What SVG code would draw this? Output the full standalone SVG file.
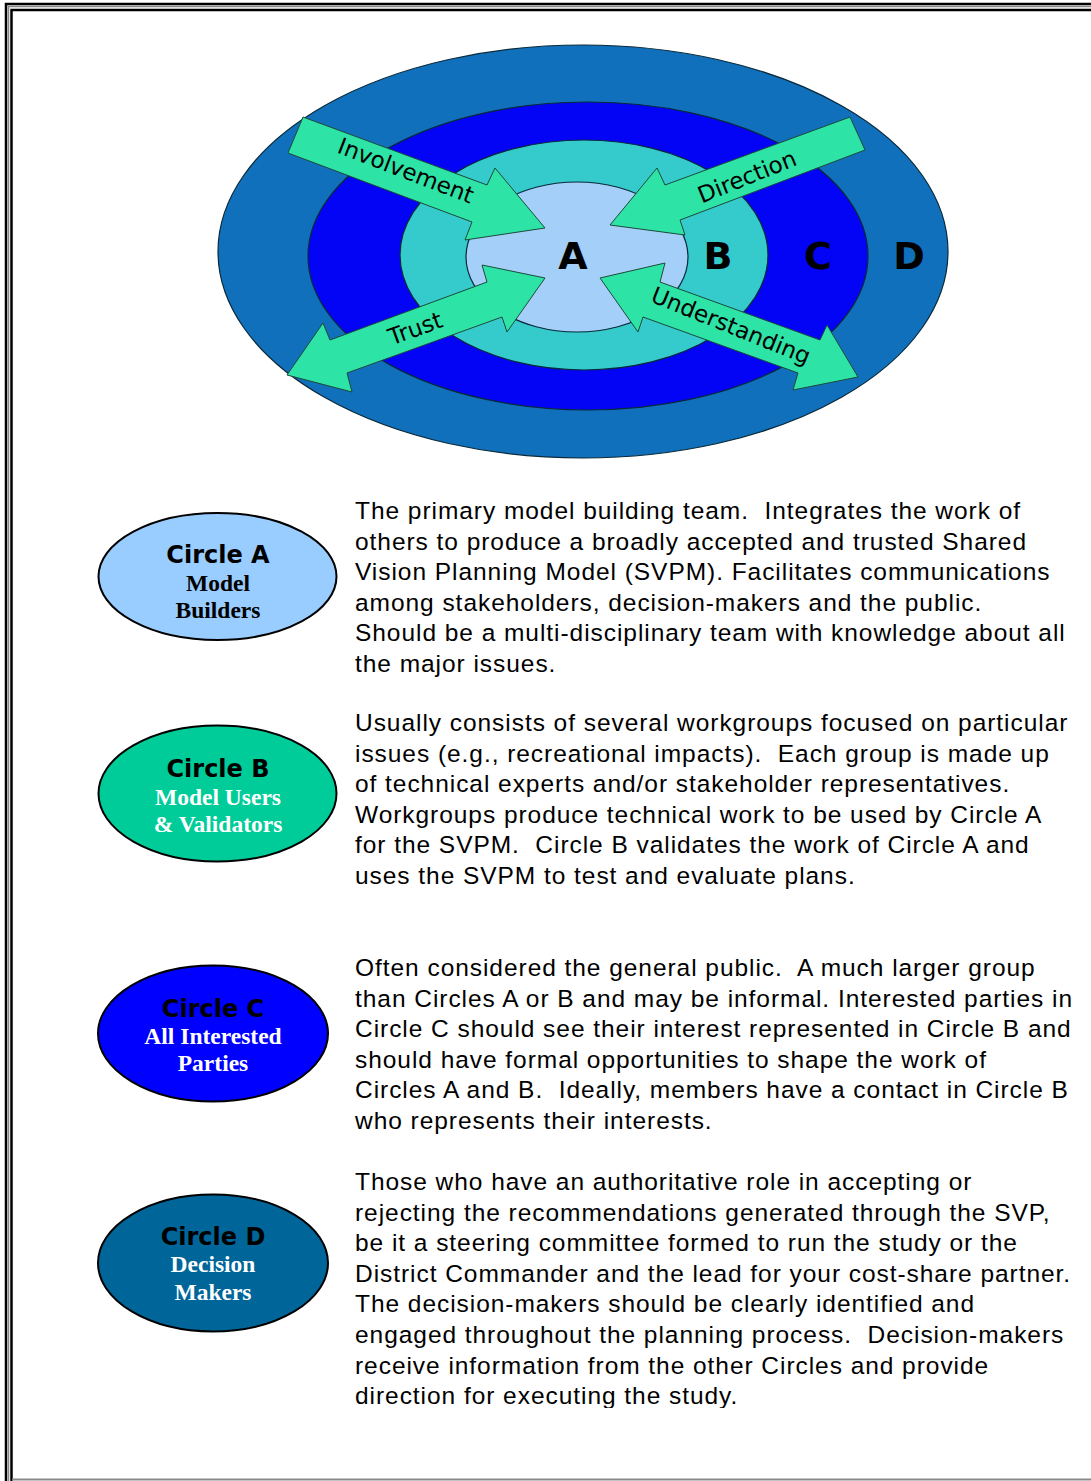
<svg xmlns="http://www.w3.org/2000/svg" width="1091" height="1481" viewBox="0 0 1091 1481">
<defs>
<style>
.body{font-family:"Liberation Sans",Arial,sans-serif;font-size:24.5px;letter-spacing:0.95px;fill:#000}
.lbl{font-family:"DejaVu Sans",Verdana,sans-serif;font-size:23px;fill:#000}
.big{font-family:"DejaVu Sans",Verdana,sans-serif;font-size:38px;font-weight:bold;fill:#000;text-anchor:middle}
.ttl{font-family:"DejaVu Sans",Verdana,sans-serif;font-size:24px;font-weight:bold;fill:#000;text-anchor:middle}
.sub{font-family:"Liberation Serif","Times New Roman",serif;font-size:23.5px;font-weight:bold;text-anchor:middle}
.arrow{fill:#2DE3A6;stroke:#1d4a3a;stroke-width:1}
.ring{stroke:#0a2a3a;stroke-width:1.2}
.node{stroke:#000;stroke-width:2}
</style>
<clipPath id="clipText"><rect x="0" y="0" width="1091" height="1408"/></clipPath>
</defs>
<rect width="1091" height="1481" fill="#fff"/>
<!-- border -->
<g id="border" fill="none">
<path d="M6 1481 V4 H1091" stroke="#000" stroke-width="2.5"/>
<path d="M8.5 1481 V6.5 H1091" stroke="#888" stroke-width="1.5"/>
<path d="M11.5 1481 V10 H1091" stroke="#000" stroke-width="2.5"/>
<path d="M12 1479.5 H1091" stroke="#888" stroke-width="2"/>
</g>
<!-- concentric circles -->
<g id="rings">
<ellipse id="ringD" class="ring" cx="583" cy="251.5" rx="365" ry="206.5" fill="#1170BB"/>
<ellipse id="ringC" class="ring" cx="588" cy="256" rx="280" ry="154" fill="#0303F5"/>
<ellipse id="ringB" class="ring" cx="584" cy="255" rx="184" ry="115" fill="#35CACB"/>
<ellipse id="ringA" class="ring" cx="577" cy="257" rx="111" ry="75" fill="#A3CFF8"/>
<text class="big" x="573" y="269">A</text>
<text class="big" x="718" y="269">B</text>
<text class="big" x="818" y="269">C</text>
<text class="big" x="909" y="269">D</text>
</g>
<g id="connectors">
<g id="arrow-involvement">
<polygon class="arrow" points="303,117 487,185 495,168 545,228 465,240 472,222 288,153"/>
<text class="lbl" transform="translate(403,178) rotate(21)" text-anchor="middle">Involvement</text>
</g>
<g id="arrow-direction">
<polygon class="arrow" points="850,117 865,150 680,220 685,235 610,225 657,168 665,185"/>
<text class="lbl" transform="translate(750,184) rotate(-22)" text-anchor="middle">Direction</text>
</g>
<g id="arrow-trust">
<polygon class="arrow" points="545,278 507,332 502,317 347,373 352,392 287,375 323,323 330,340 487,282 482,265"/>
<text class="lbl" transform="translate(418,336) rotate(-20)" text-anchor="middle">Trust</text>
</g>
<g id="arrow-understanding">
<polygon class="arrow" points="600,278 665,263 660,282 820,340 827,325 858,377 793,390 798,373 643,317 638,332"/>
<text class="lbl" transform="translate(728,333) rotate(22)" text-anchor="middle">Understanding</text>
</g>
</g>
<!-- legend nodes -->
<g id="circleA">
<ellipse class="node" cx="217.5" cy="576.5" rx="119" ry="63.5" fill="#99CCFF"/>
<text class="ttl" x="218" y="563">Circle A</text>
<text class="sub" x="218" y="591" fill="#000">Model</text>
<text class="sub" x="218" y="618" fill="#000">Builders</text>
</g>
<g id="circleB">
<ellipse class="node" cx="217.5" cy="793.5" rx="119" ry="68" fill="#00CC99"/>
<text class="ttl" x="218" y="777">Circle B</text>
<text class="sub" x="218" y="805" fill="#fff">Model Users</text>
<text class="sub" x="218" y="832" fill="#fff">&amp; Validators</text>
</g>
<g id="circleC">
<ellipse class="node" cx="213" cy="1033.5" rx="115" ry="68" fill="#0000FF"/>
<text class="ttl" x="213" y="1017">Circle C</text>
<text class="sub" x="213" y="1044" fill="#fff">All Interested</text>
<text class="sub" x="213" y="1071" fill="#fff">Parties</text>
</g>
<g id="circleD">
<ellipse class="node" cx="213" cy="1263" rx="115" ry="68.5" fill="#006699"/>
<text class="ttl" x="213" y="1245">Circle D</text>
<text class="sub" x="213" y="1272" fill="#fff">Decision</text>
<text class="sub" x="213" y="1300" fill="#fff">Makers</text>
</g>
<!-- descriptions -->
<g id="descriptions" clip-path="url(#clipText)">
<text class="body" xml:space="preserve">
<tspan x="355" y="519">The primary model building team.  Integrates the work of</tspan>
<tspan x="355" y="549.6">others to produce a broadly accepted and trusted Shared</tspan>
<tspan x="355" y="580.2">Vision Planning Model (SVPM). Facilitates communications</tspan>
<tspan x="355" y="610.8">among stakeholders, decision-makers and the public.</tspan>
<tspan x="355" y="641.4">Should be a multi-disciplinary team with knowledge about all</tspan>
<tspan x="355" y="672">the major issues.</tspan>
</text>
<text class="body" xml:space="preserve">
<tspan x="355" y="731">Usually consists of several workgroups focused on particular</tspan>
<tspan x="355" y="761.6">issues (e.g., recreational impacts).  Each group is made up</tspan>
<tspan x="355" y="792.2">of technical experts and/or stakeholder representatives.</tspan>
<tspan x="355" y="822.8">Workgroups produce technical work to be used by Circle A</tspan>
<tspan x="355" y="853.4">for the SVPM.  Circle B validates the work of Circle A and</tspan>
<tspan x="355" y="884">uses the SVPM to test and evaluate plans.</tspan>
</text>
<text class="body" xml:space="preserve">
<tspan x="355" y="976">Often considered the general public.  A much larger group</tspan>
<tspan x="355" y="1006.6">than Circles A or B and may be informal. Interested parties in</tspan>
<tspan x="355" y="1037.2">Circle C should see their interest represented in Circle B and</tspan>
<tspan x="355" y="1067.8">should have formal opportunities to shape the work of</tspan>
<tspan x="355" y="1098.4">Circles A and B.  Ideally, members have a contact in Circle B</tspan>
<tspan x="355" y="1129">who represents their interests.</tspan>
</text>
<text class="body" xml:space="preserve">
<tspan x="355" y="1190">Those who have an authoritative role in accepting or</tspan>
<tspan x="355" y="1220.6">rejecting the recommendations generated through the SVP,</tspan>
<tspan x="355" y="1251.2">be it a steering committee formed to run the study or the</tspan>
<tspan x="355" y="1281.8">District Commander and the lead for your cost-share partner.</tspan>
<tspan x="355" y="1312.4">The decision-makers should be clearly identified and</tspan>
<tspan x="355" y="1343">engaged throughout the planning process.  Decision-makers</tspan>
<tspan x="355" y="1373.6">receive information from the other Circles and provide</tspan>
<tspan x="355" y="1404.2">direction for executing the study.</tspan>
</text>
</g>
</svg>
